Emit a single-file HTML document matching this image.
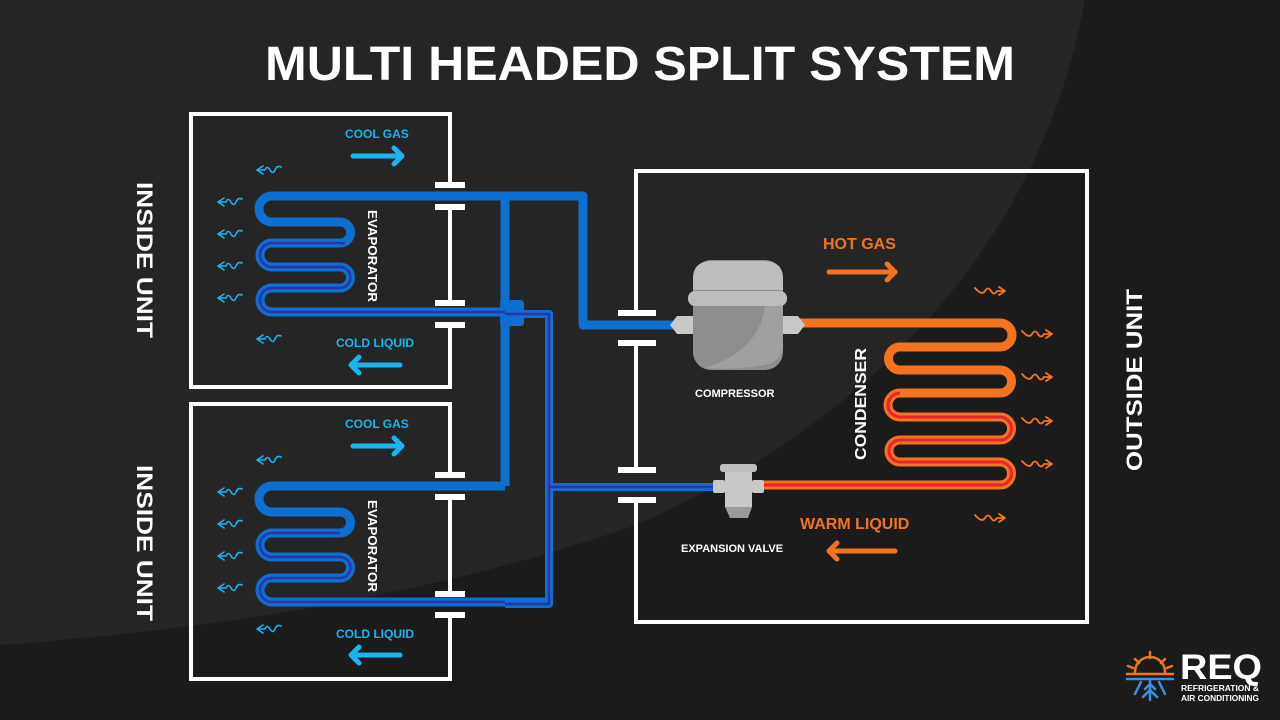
<!DOCTYPE html>
<html><head><meta charset="utf-8"><style>
html,body{margin:0;padding:0;background:#1b1b1b;}
svg{display:block}
text{font-family:"Liberation Sans",sans-serif;font-weight:bold}
</style></head><body>
<svg width="1280" height="720" viewBox="0 0 1280 720" xmlns="http://www.w3.org/2000/svg">
<rect width="1280" height="720" fill="#1b1b1b"/>
<path d="M0,0 L1085,0 C1040,250 860,430 630,527 C420,600 200,630 0,645 Z" fill="#252525"/>

<text x="640" y="80" font-size="48" fill="#fff" text-anchor="middle" textLength="750" lengthAdjust="spacingAndGlyphs">MULTI HEADED SPLIT SYSTEM</text>

<!-- boxes -->
<g fill="none" stroke="#fff" stroke-width="4">
<path d="M450,185 V114 H191 V387 H450 V325"/>
<path d="M450,207 V303"/>
<path d="M450,475 V404 H191 V679 H450 V615"/>
<path d="M450,497 V594"/>
<path d="M636,313 V171 H1087 V622 H636 V500"/>
<path d="M636,343 V470"/>
</g>
<g fill="#fff">
<rect x="435" y="182" width="30" height="6"/><rect x="435" y="204" width="30" height="6"/>
<rect x="435" y="300" width="30" height="6"/><rect x="435" y="322" width="30" height="6"/>
<rect x="435" y="472" width="30" height="6"/><rect x="435" y="494" width="30" height="6"/>
<rect x="435" y="591" width="30" height="6"/><rect x="435" y="612" width="30" height="6"/>
<rect x="618" y="310" width="38" height="6"/><rect x="618" y="340" width="38" height="6"/>
<rect x="618" y="467" width="38" height="6"/><rect x="618" y="497" width="38" height="6"/>
</g>

<!-- blue gas pipes -->
<g fill="none" stroke="#0d6fd0" stroke-width="9" stroke-linejoin="round">
<path d="M505,196 H583 V325 H680"/>
<path d="M505,196 V486"/>
<path d="M505,486 H272 A12.5,12.5 0 0 0 272,512 H340 A10.5,10.5 0 0 1 340,533 H272 A12,12 0 0 0 272,557 H340 A10.5,10.5 0 0 1 340,578 H272 A12,12 0 0 0 272,602 H548"/>
<path d="M505,196 H272 A13,13 0 0 0 272,222 H340 A10.5,10.5 0 0 1 340,243 H272 A12,12 0 0 0 272,267 H340 A10.5,10.5 0 0 1 340,288 H272 A12,12 0 0 0 272,312 H520"/>
</g>
<!-- junction block -->
<rect x="500" y="300" width="24" height="26" rx="3" fill="#0d6fd0"/>
<!-- liquid lines -->
<g fill="none" stroke-linejoin="round">
<path d="M505,314 H549 V604 H505 M549,487 H718" stroke="#0d6fd0" stroke-width="8"/>
<path d="M505,314 H549 V604 H505 M549,487 H718" stroke="#2b35a8" stroke-width="2.5"/>
<path d="M345,243 A10.5,10.5 0 0 1 340,243 M340,243 H272 A12,12 0 0 0 272,267 H340 A10.5,10.5 0 0 1 340,288 H272 A12,12 0 0 0 272,312 H505" stroke="#2b35a8" stroke-width="2.5"/>
<path d="M340,533 H272 A12,12 0 0 0 272,557 H340 A10.5,10.5 0 0 1 340,578 H272 A12,12 0 0 0 272,602 H505" stroke="#2b35a8" stroke-width="2.5"/>
</g>

<!-- condenser -->
<path d="M800,323 H1000 A12,12 0 0 1 1000,347 H900 A11.5,11.5 0 0 0 900,370 H1000 A11.5,11.5 0 0 1 1000,393 H900 A12,12 0 0 0 900,417 H1000 A11.5,11.5 0 0 1 1000,440 H900 A11,11 0 0 0 900,462 H1000 A11.5,11.5 0 0 1 1000,485 H755" fill="none" stroke="#f47321" stroke-width="9"/>
<path d="M900,393 A12,12 0 0 0 900,417 H1000 A11.5,11.5 0 0 1 1000,440 H900 A11,11 0 0 0 900,462 H1000 A11.5,11.5 0 0 1 1000,485 H755" fill="none" stroke="#e8242a" stroke-width="3"/>

<!-- compressor -->
<polygon points="670,325 677,316 693,316 693,334 677,334" fill="#c8c8c8"/>
<polygon points="805,325 798,316 783,316 783,334 798,334" fill="#c8c8c8"/>
<rect x="693" y="260" width="90" height="110" rx="18" fill="#8e8e8e"/>
<path d="M693,290 V278 Q693,262 711,261 H765 Q783,262 783,278 V290 Z" fill="#bdbdbd"/>
<rect x="688" y="291" width="99" height="15" rx="7" fill="#bdbdbd"/>
<path d="M765,306 Q760,350 705,368 Q740,370 765,365 Q783,360 783,345 V306 Z" fill="#a0a0a0"/>

<!-- expansion valve -->
<rect x="720" y="464" width="37" height="8" rx="3" fill="#bdbdbd"/>
<rect x="725" y="472" width="27" height="35" fill="#c8c8c8"/>
<rect x="713" y="480" width="12" height="13" rx="2" fill="#c8c8c8"/>
<rect x="752" y="480" width="12" height="13" rx="2" fill="#c8c8c8"/>
<polygon points="725,507 752,507 748,518 730,518" fill="#9a9a9a"/>

<!-- labels -->
<g fill="#1ab4f0" font-size="12">
<text x="345" y="138">COOL GAS</text>
<text x="336" y="347">COLD LIQUID</text>
<text x="345" y="428">COOL GAS</text>
<text x="336" y="638">COLD LIQUID</text>
</g>
<g fill="none" stroke="#1ab4f0" stroke-width="5" stroke-linecap="round" stroke-linejoin="round">
<path d="M353,156 H402 M394,148 L402,156 L394,164"/>
<path d="M400,365 H351 M359,357 L351,365 L359,373"/>
<path d="M353,446 H402 M394,438 L402,446 L394,454"/>
<path d="M400,655 H351 M359,647 L351,655 L359,663"/>
</g>
<g fill="#f47321" font-size="16">
<text x="823" y="249">HOT GAS</text>
<text x="800" y="529">WARM LIQUID</text>
</g>
<g fill="none" stroke="#f47321" stroke-width="5" stroke-linecap="round" stroke-linejoin="round">
<path d="M829,272 H895 M887,264 L895,272 L887,280"/>
<path d="M895,551 H829 M837,543 L829,551 L837,559"/>
</g>
<g fill="#fff" font-size="11">
<text x="695" y="397">COMPRESSOR</text>
<text x="681" y="552">EXPANSION VALVE</text>
</g>
<g fill="#fff" font-size="13">
<text transform="translate(368,210) rotate(90)" textLength="92" lengthAdjust="spacingAndGlyphs">EVAPORATOR</text>
<text transform="translate(368,500) rotate(90)" textLength="92" lengthAdjust="spacingAndGlyphs">EVAPORATOR</text>
<text transform="translate(866,460) rotate(-90)" font-size="16" textLength="112" lengthAdjust="spacingAndGlyphs">CONDENSER</text>
</g>
<g fill="#fff" font-size="22">
<text transform="translate(137,182) rotate(90)" textLength="156" lengthAdjust="spacingAndGlyphs">INSIDE UNIT</text>
<text transform="translate(137,465) rotate(90)" textLength="156" lengthAdjust="spacingAndGlyphs">INSIDE UNIT</text>
<text transform="translate(1142,471) rotate(-90)" textLength="182" lengthAdjust="spacingAndGlyphs">OUTSIDE UNIT</text>
</g>

<!-- wavy arrows blue -->
<defs>
<path id="wb" d="M0,0 L6,-4 M0,0 L6,4 M0,0 H8 Q10,-5 13,0 T18,0 T24,-3" fill="none" stroke="#1ab4f0" stroke-width="1.6" stroke-linecap="round"/>
<path id="wo" d="M30,0 L24,-4 M30,0 L24,4 M30,0 H22 Q19,5 16,0 T10,0 T0,-3" fill="none" stroke="#f47321" stroke-width="1.8" stroke-linecap="round"/>
</defs>
<use href="#wb" x="257" y="170"/><use href="#wb" x="218" y="202"/><use href="#wb" x="218" y="234"/>
<use href="#wb" x="218" y="266"/><use href="#wb" x="218" y="298"/><use href="#wb" x="257" y="339"/>
<use href="#wb" x="257" y="460"/><use href="#wb" x="218" y="492"/><use href="#wb" x="218" y="524"/>
<use href="#wb" x="218" y="556"/><use href="#wb" x="218" y="588"/><use href="#wb" x="257" y="629"/>
<use href="#wo" x="975" y="291"/><use href="#wo" x="1022" y="334"/><use href="#wo" x="1022" y="377"/>
<use href="#wo" x="1022" y="421"/><use href="#wo" x="1022" y="464"/><use href="#wo" x="975" y="518"/>

<!-- logo -->
<g stroke-linecap="round" fill="none" stroke-width="2.5">
<path d="M1127,674 H1173" stroke="#f47321"/>
<path d="M1135,672 A15,15 0 0 1 1165,672" stroke="#f47321"/>
<path d="M1150,652 V658 M1135,659 L1139,663 M1165,659 L1161,663 M1128,666 L1133,668 M1172,666 L1167,668" stroke="#f47321"/>
<path d="M1127,679 H1173 M1150,680 V700 M1150,690 L1143,697 M1150,690 L1157,697 M1141,682 L1135,694 M1159,682 L1165,694 M1150,684 L1145,689 M1150,684 L1155,689" stroke="#3f8fe0"/>
</g>
<text x="1180" y="679" font-size="35" fill="#fff" textLength="82" lengthAdjust="spacingAndGlyphs">REQ</text>
<text x="1181" y="691" font-size="8" fill="#fff" textLength="78" lengthAdjust="spacingAndGlyphs">REFRIGERATION &amp;</text>
<text x="1181" y="701" font-size="8" fill="#fff" textLength="78" lengthAdjust="spacingAndGlyphs">AIR CONDITIONING</text>
</svg>
</body></html>
